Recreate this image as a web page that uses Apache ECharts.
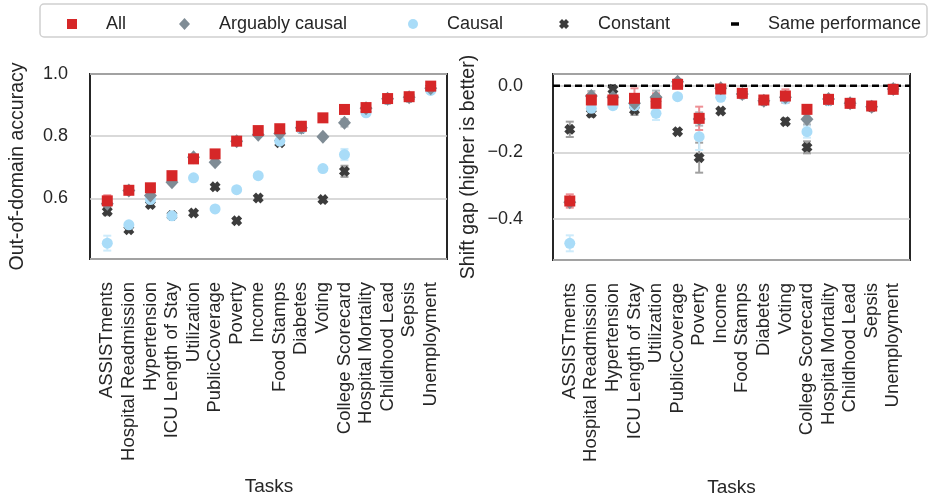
<!DOCTYPE html>
<html>
<head>
<meta charset="utf-8">
<script src="https://cdn.jsdelivr.net/npm/echarts@6/dist/echarts.min.js"></script>
<style>html,body{margin:0;padding:0;background:#fff}#c{width:930px;height:498px}</style>
</head>
<body>
<div id="c"></div>
<script>
// ---- data ----
const tasks = ["ASSISTments","Hospital Readmission","Hypertension","ICU Length of Stay","Utilization","PublicCoverage","Poverty","Income","Food Stamps","Diabetes","Voting","College Scorecard","Hospital Mortality","Childhood Lead","Sepsis","Unemployment"];

// Out-of-domain accuracy
const accAll      = [0.592,0.626,0.634,0.673,0.727,0.743,0.784,0.818,0.824,0.832,0.859,0.886,0.892,0.921,0.927,0.961];
const accArguably = [0.583,0.625,0.609,0.652,0.732,0.716,0.784,0.805,0.809,0.827,0.798,0.843,0.890,0.920,0.925,0.954];
const accCausal   = [0.456,0.515,0.596,0.544,0.666,0.566,0.628,0.673,0.784,0.825,0.696,0.741,0.875,0.918,0.925,0.947];
const accConstant = [0.558,0.499,0.580,0.545,0.553,0.637,0.528,0.601,0.779,0.825,0.596,0.687,0.886,0.918,0.925,0.955];
const errAccAll      = [0.018,0.006,0.006,0.006,0.008,0.006,0.006,0.005,0.005,0.005,0.005,0.008,0.005,0.005,0.005,0.006];
const errAccArguably = [0.006,0.006,0.006,0.006,0.006,0.006,0.006,0.005,0.005,0.005,0.005,0.012,0.005,0.005,0.005,0.006];
const errAccCausal   = [0.024,0.006,0.006,0.006,0.006,0.005,0.005,0.005,0.005,0.005,0.005,0.018,0.005,0.005,0.005,0.005];
const errAccConstant = [0.012,0.004,0.004,0.005,0.004,0.004,0.004,0.004,0.004,0.004,0.004,0.018,0.004,0.004,0.004,0.004];

// Shift gap
const gapAll      = [-0.346,-0.043,-0.043,-0.038,-0.053,0.004,-0.098,-0.010,-0.023,-0.043,-0.031,-0.071,-0.041,-0.053,-0.061,-0.011];
const gapArguably = [-0.350,-0.031,-0.035,-0.053,-0.035,0.012,-0.100,-0.008,-0.025,-0.045,-0.035,-0.101,-0.040,-0.053,-0.063,-0.010];
const gapCausal   = [-0.473,-0.068,-0.060,-0.060,-0.083,-0.033,-0.153,-0.035,-0.025,-0.045,-0.040,-0.138,-0.045,-0.053,-0.060,-0.012];
const gapConstant = [-0.131,-0.083,-0.011,-0.073,-0.040,-0.138,-0.216,-0.076,-0.025,-0.045,-0.108,-0.185,-0.045,-0.053,-0.063,-0.010];
const errGapAll      = [0.020,0.020,0.012,0.030,0.030,0.008,0.035,0.006,0.006,0.006,0.020,0.012,0.008,0.006,0.006,0.006];
const errGapArguably = [0.010,0.015,0.010,0.020,0.020,0.008,0.020,0.006,0.006,0.006,0.015,0.015,0.008,0.006,0.006,0.006];
const errGapCausal   = [0.024,0.010,0.010,0.015,0.020,0.006,0.040,0.006,0.006,0.006,0.010,0.018,0.008,0.006,0.006,0.006];
const errGapConstant = [0.023,0.010,0.010,0.015,0.010,0.006,0.045,0.006,0.006,0.006,0.010,0.018,0.006,0.006,0.006,0.006];

const samePerformance = [0, 0];

// ---- styling ----
const FONT = "'Liberation Sans', Arial, sans-serif";
const TXT = '#262626';
const C = { all:'#d62728', arg:'#7f8c95', causal:'#a9dcf8', constant:'#3c3c3c' };
const EC = { all:'#ee9095', arg:'#b2b8bd', causal:'#cdebfb', constant:'#a0a0a0' };
const XPATH = 'path://M0,3 L3,0 L5,2 L7,0 L10,3 L8,5 L10,7 L7,10 L5,8 L3,10 L0,7 L2,5 Z';
const DASHPATH = 'path://M0,0 L8,0 L8,3.5 L0,3.5 Z';

function errSeries(name, vals, errs, color, xi, yi) {
  return {
    type:'custom', name: name + ' err', xAxisIndex:xi, yAxisIndex:yi, z:1, silent:true,
    data: vals.map((v,i)=>[i, v-errs[i], v+errs[i]]),
    renderItem: function(params, api) {
      const lo = api.coord([api.value(0), api.value(1)]);
      const hi = api.coord([api.value(0), api.value(2)]);
      const cw = 4;
      const st = { stroke: color, lineWidth: 2 };
      return { type:'group', children:[
        { type:'line', shape:{x1:lo[0], y1:lo[1], x2:hi[0], y2:hi[1]}, style:st },
        { type:'line', shape:{x1:lo[0]-cw, y1:lo[1], x2:lo[0]+cw, y2:lo[1]}, style:st },
        { type:'line', shape:{x1:hi[0]-cw, y1:hi[1], x2:hi[0]+cw, y2:hi[1]}, style:st }
      ]};
    }
  };
}
function pts(name, vals, symbol, size, color, z, xi, yi) {
  return { type:'scatter', name, data: vals.map((v,i)=>[i,v]), symbol, symbolSize:size,
    itemStyle:{color, opacity:1}, z, xAxisIndex:xi, yAxisIndex:yi };
}

const minus = v => { if (Math.abs(v) < 1e-9) v = 0; return v.toFixed(1).replace('-', '\u2212'); };

function legendItem(name, icon, left, w, h) {
  return { data:[{name, icon}], left, top:10, itemWidth:w, itemHeight:h, selectedMode:false,
    textStyle:{ fontFamily:FONT, fontSize:18, color:TXT, padding:[0,0,0,24] } };
}

const chart = echarts.init(document.getElementById('c'), null, {renderer:'canvas'});
const option = {
  animation:false,
  backgroundColor:'#ffffff',
  graphic:[{ type:'rect', z:-1, shape:{x:40, y:4, width:887, height:33, r:4},
    style:{ fill:'#ffffff', stroke:'#d0d0d0', lineWidth:1.5 } }],
  legend:[
    legendItem('All', 'rect', 62, 10, 10),
    legendItem('Arguably causal', 'diamond', 174, 11, 12),
    legendItem('Causal', 'circle', 403, 10, 10),
    legendItem('Constant', XPATH, 554, 10, 10),
    legendItem('Same performance', DASHPATH, 726, 8, 8)
  ],
  grid:[
    { left:90, top:74, width:357, height:185, show:true, borderColor:'#262626', borderWidth:2, backgroundColor:'transparent' },
    { left:96.5, top:74, width:345, height:185 },
    { left:553, top:74, width:357, height:186, show:true, borderColor:'#262626', borderWidth:2, backgroundColor:'transparent' },
    { left:559, top:74, width:345, height:186 }
  ],
  xAxis:[
    { type:'value', gridIndex:0, min:0, max:1, show:false },
    { type:'category', gridIndex:1, data:tasks, boundaryGap:true,
      axisLine:{show:false}, axisTick:{show:false},
      axisLabel:{ rotate:90, interval:0, margin:23, fontFamily:FONT, fontSize:18.5, color:TXT },
      name:'Tasks', nameLocation:'middle', nameGap:218,
      nameTextStyle:{ fontFamily:FONT, fontSize:19, color:TXT } },
    { type:'value', gridIndex:2, min:0, max:1, show:false },
    { type:'category', gridIndex:3, data:tasks, boundaryGap:true,
      axisLine:{show:false}, axisTick:{show:false},
      axisLabel:{ rotate:90, interval:0, margin:23, fontFamily:FONT, fontSize:18.5, color:TXT },
      name:'Tasks', nameLocation:'middle', nameGap:218,
      nameTextStyle:{ fontFamily:FONT, fontSize:19, color:TXT } }
  ],
  yAxis:[
    { type:'value', gridIndex:0, min:0.405, max:1.0, splitNumber:3,
      axisLine:{show:false}, axisTick:{show:false},
      axisLabel:{ margin:22, fontFamily:FONT, fontSize:18, color:TXT, showMinLabel:false, showMaxLabel:true,
        formatter: v => v.toFixed(1) },
      splitLine:{ lineStyle:{ color:'#cccccc', width:1.5 } },
      name:'Out-of-domain accuracy', nameLocation:'middle', nameGap:62, nameRotate:90,
      nameTextStyle:{ fontFamily:FONT, fontSize:19.5, color:TXT } },
    { type:'value', gridIndex:1, min:0.405, max:1.0, show:false },
    { type:'value', gridIndex:2, min:-0.523, max:0.035, splitNumber:3,
      axisLine:{show:false}, axisTick:{show:false},
      axisLabel:{ margin:30, fontFamily:FONT, fontSize:18, color:TXT, showMinLabel:false, showMaxLabel:false,
        formatter: minus },
      splitLine:{ lineStyle:{ color:'#cccccc', width:1.5 } },
      name:'Shift gap (higher is better)', nameLocation:'middle', nameGap:74, nameRotate:90,
      nameTextStyle:{ fontFamily:FONT, fontSize:19.5, color:TXT } },
    { type:'value', gridIndex:3, min:-0.523, max:0.035, show:false }
  ],
  series:[
    errSeries('Constant', accConstant, errAccConstant, EC.constant, 1, 1),
    errSeries('Causal', accCausal, errAccCausal, EC.causal, 1, 1),
    errSeries('Arguably causal', accArguably, errAccArguably, EC.arg, 1, 1),
    errSeries('All', accAll, errAccAll, EC.all, 1, 1),
    pts('Constant', accConstant, XPATH, 11, C.constant, 2, 1, 1),
    pts('Causal', accCausal, 'circle', 11, C.causal, 3, 1, 1),
    pts('Arguably causal', accArguably, 'diamond', [13,14], C.arg, 4, 1, 1),
    pts('All', accAll, 'rect', 11, C.all, 5, 1, 1),

    { type:'line', name:'Same performance', xAxisIndex:2, yAxisIndex:2, z:1,
      data: samePerformance.map((v,i)=>[i, v]), symbol:'none', silent:true,
      itemStyle:{color:'#000000'}, lineStyle:{ color:'#000000', width:2.5, type:[7,4] } },
    errSeries('Constant', gapConstant, errGapConstant, EC.constant, 3, 3),
    errSeries('Causal', gapCausal, errGapCausal, EC.causal, 3, 3),
    errSeries('Arguably causal', gapArguably, errGapArguably, EC.arg, 3, 3),
    errSeries('All', gapAll, errGapAll, EC.all, 3, 3),
    pts('Constant', gapConstant, XPATH, 11, C.constant, 2, 3, 3),
    pts('Causal', gapCausal, 'circle', 11, C.causal, 3, 3, 3),
    pts('Arguably causal', gapArguably, 'diamond', [13,14], C.arg, 4, 3, 3),
    pts('All', gapAll, 'rect', 11, C.all, 5, 3, 3)
  ]
};
chart.setOption(option);
</script>
</body>
</html>
